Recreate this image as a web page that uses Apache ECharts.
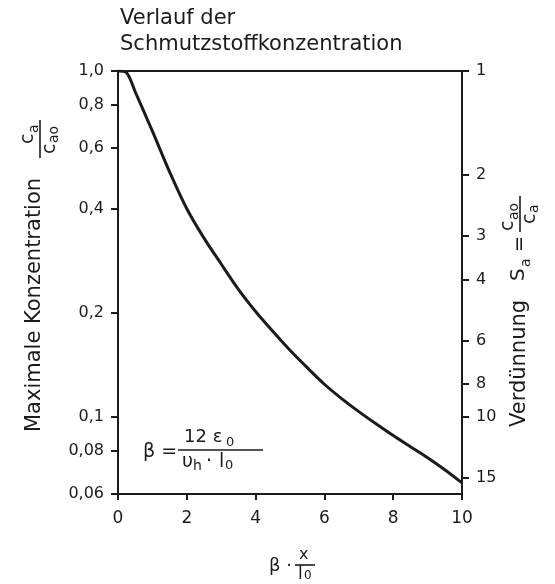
<!DOCTYPE html>
<html>
<head>
<meta charset="utf-8">
<script src="https://cdn.jsdelivr.net/npm/echarts@6/dist/echarts.min.js"></script>
<style>
html, body { margin: 0; padding: 0; background: #fff; }
#chart { width: 555px; height: 584px; }
</style>
</head>
<body>
<div id="chart"></div>
<script>
// Verlauf c_a/c_a0 über beta*x/l0
const betaX = [0, 0.25, 0.5, 0.75, 1, 1.5, 2, 2.5, 3, 3.5, 4, 4.5, 5, 5.5, 6, 6.5, 7, 7.5, 8, 8.5, 9, 9.5, 10];
const conc = [1.0, 0.989, 0.871, 0.764, 0.670, 0.511, 0.400, 0.329, 0.277, 0.234, 0.202, 0.177, 0.156, 0.139, 0.1245, 0.1132, 0.1038, 0.0957, 0.0885, 0.0822, 0.0764, 0.0705, 0.0646];
const concTicks = [0.06, 0.08, 0.1, 0.2, 0.4, 0.6, 0.8, 1.0];
const concLabels = ['0,06', '0,08', '0,1', '0,2', '0,4', '0,6', '0,8', '1,0'];
const dilTicks = [1, 2, 3, 4, 6, 8, 10, 15];

const ink = '#1b1b1b';
const face = 'DejaVu Sans';

function nearestLabel(v) {
  let best = 0;
  for (let i = 1; i < concTicks.length; i++) {
    if (Math.abs(Math.log(concTicks[i] / v)) < Math.abs(Math.log(concTicks[best] / v))) best = i;
  }
  return concLabels[best];
}

function t(x, y, text, size, extra) {
  return {
    type: 'text', x: x, y: y,
    style: Object.assign({ text: text, font: size + 'px "' + face + '"', fill: ink }, extra || {})
  };
}
function ln(x1, y1, x2, y2) {
  return { type: 'line', shape: { x1: x1, y1: y1, x2: x2, y2: y2 }, style: { stroke: ink, lineWidth: 1.6 } };
}

const chart = echarts.init(document.getElementById('chart'));
const cMin = concTicks[0];
const cMax = concTicks[concTicks.length - 1];

const option = {
  backgroundColor: '#fff',
  animation: false,
  grid: { left: 118, right: 93, top: 71, bottom: 90 },
  xAxis: [
    {
      type: 'value', min: 0, max: 10, interval: 2,
      axisLine: { onZero: false, lineStyle: { color: ink, width: 2 } },
      axisTick: { length: 6, lineStyle: { color: ink, width: 2 } },
      axisLabel: { color: ink, fontSize: 17, fontFamily: face, margin: 16 },
      splitLine: { show: false }
    },
    {
      type: 'value', position: 'top', min: 0, max: 10,
      axisLine: { show: true, onZero: false, lineStyle: { color: ink, width: 2 } },
      axisTick: { show: false }, axisLabel: { show: false }, splitLine: { show: false }
    }
  ],
  yAxis: [
    {
      type: 'log', logBase: 10, min: cMin, max: cMax,
      axisLine: { show: true, onZero: false, lineStyle: { color: ink, width: 2 } },
      axisTick: { show: true, length: 7, customValues: concTicks, lineStyle: { color: ink, width: 2 } },
      axisLabel: {
        color: ink, fontSize: 16, fontFamily: face, margin: 14,
        customValues: concTicks,
        formatter: function (v) { return nearestLabel(v); }
      },
      splitLine: { show: false }, minorTick: { show: false }
    },
    {
      type: 'log', logBase: 10, min: 1, max: 1 / cMin, inverse: true, position: 'right',
      axisLine: { show: true, onZero: false, lineStyle: { color: ink, width: 2 } },
      axisTick: { show: true, length: 7, customValues: dilTicks, lineStyle: { color: ink, width: 2 } },
      axisLabel: {
        color: ink, fontSize: 16, fontFamily: face, margin: 14,
        customValues: dilTicks,
        formatter: function (v) { return String(Math.round(v)); }
      },
      splitLine: { show: false }
    }
  ],
  series: [
    {
      type: 'line',
      data: betaX.map(function (x, i) { return [x, conc[i]]; }),
      smooth: 0.3,
      symbol: 'none',
      lineStyle: { color: ink, width: 3 }
    }
  ],
  graphic: [
    t(120, 8, 'Verlauf der', 21),
    t(120, 34, 'Schmutzstoffkonzentration', 21),
    // linke Achsenbeschriftung
    {
      type: 'group', x: 40, y: 432, rotation: Math.PI / 2,
      children: [
        t(0, -5, 'Maximale Konzentration', 21, { verticalAlign: 'middle' }),
        ln(274, 0, 312, 0),
        t(288, -2, 'c', 19, { verticalAlign: 'bottom' }),
        t(299, 1, 'a', 14, { verticalAlign: 'bottom' }),
        t(278, 1, 'c', 19, { verticalAlign: 'top' }),
        t(289, 7, 'ao', 14, { verticalAlign: 'top' })
      ]
    },
    // rechte Achsenbeschriftung
    {
      type: 'group', x: 520, y: 427, rotation: Math.PI / 2,
      children: [
        t(0, 0, 'Verdünnung', 21, { verticalAlign: 'middle' }),
        t(146, -1, 'S', 20, { verticalAlign: 'middle' }),
        t(160, 6, 'a', 14, { verticalAlign: 'middle' }),
        t(175, 0, '=', 19, { verticalAlign: 'middle' }),
        ln(195, 0, 231, 0),
        t(196, -2, 'c', 19, { verticalAlign: 'bottom' }),
        t(207, 1, 'ao', 14, { verticalAlign: 'bottom' }),
        t(203, 1, 'c', 19, { verticalAlign: 'top' }),
        t(214, 7, 'a', 14, { verticalAlign: 'top' })
      ]
    },
    // Formel im Diagramm
    t(143, 452, 'β =', 19, { verticalAlign: 'middle' }),
    t(184, 446, '12 ε', 18, { verticalAlign: 'bottom' }),
    t(226, 449, '0', 13, { verticalAlign: 'bottom' }),
    ln(178, 450, 263, 450),
    t(182, 453, 'υ', 19, { verticalAlign: 'top' }),
    t(193, 459, 'h', 14, { verticalAlign: 'top' }),
    t(206, 453, '·', 19, { verticalAlign: 'top' }),
    t(219, 453, 'l', 19, { verticalAlign: 'top' }),
    t(225, 459, '0', 13, { verticalAlign: 'top' }),
    // x-Achsenbeschriftung
    t(269, 566, 'β ·', 18, { verticalAlign: 'middle' }),
    t(299, 563, 'x', 16, { verticalAlign: 'bottom' }),
    ln(295, 565, 315, 565),
    t(298, 566, 'l', 17, { verticalAlign: 'top' }),
    t(304, 570, '0', 12, { verticalAlign: 'top' })
  ]
};
chart.setOption(option);
</script>
</body>
</html>
